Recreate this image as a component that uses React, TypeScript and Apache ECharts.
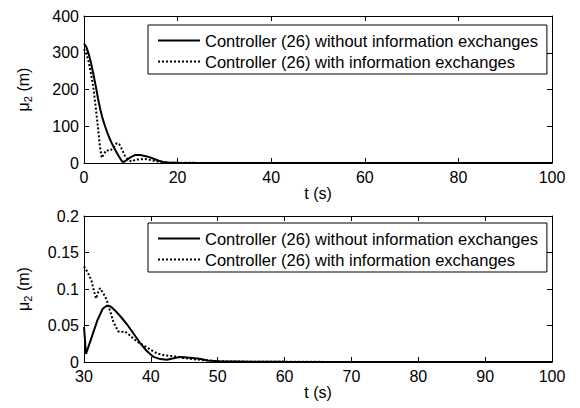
import React, { useEffect, useRef } from 'react';
import * as echarts from 'echarts';

const seriesNames = [
  'Controller (26) without information exchanges',
  'Controller (26) with information exchanges',
];

// Top panel: t (s), mu_2 (m)
const topSolid: number[][] = [
  [0, 325], [0.5, 316], [1, 297], [1.5, 272], [2, 242], [2.5, 210], [3, 175], [3.5, 145], [4, 120], [4.5, 100],
  [5, 82], [5.5, 66], [6, 52], [6.5, 40], [7, 28], [7.5, 17], [8, 7], [8.4, 2], [9, 7], [10, 16], [11, 22],
  [12, 22], [13, 19], [14, 16], [15, 11], [16, 6], [17, 3], [18, 1.5], [20, 0.8], [25, 0.3], [30, 0.1],
  [40, 0.05], [60, 0.02], [80, 0.01], [100, 0],
];
const topDotted: number[][] = [
  [0, 310], [0.5, 298], [1, 275], [1.5, 242], [2, 205], [2.5, 152], [3, 95], [3.4, 45], [3.8, 14], [4.2, 24],
  [4.8, 35], [5.5, 33], [6.2, 40], [7, 54], [7.5, 52], [8, 40], [8.8, 18], [9.5, 8], [10.2, 4], [11, 9],
  [12, 10], [13, 11], [14, 9], [15, 6], [16, 3], [17, 1], [20, 0.5], [30, 0.1], [60, 0.02], [100, 0],
];

// Bottom panel (zoom): t from 30 s
const bottomSolid: number[][] = [
  [30, 0.048], [30.3, 0.011], [31, 0.03], [32, 0.057], [32.8, 0.073], [33.4, 0.077], [34, 0.076], [34.6, 0.071],
  [35.5, 0.062], [36.4, 0.052], [37.4, 0.039], [38.4, 0.026], [39.4, 0.015], [40.4, 0.007], [41.4, 0.004],
  [42.4, 0.003], [43.4, 0.005], [44.4, 0.007], [45.5, 0.006], [47.3, 0.0045], [48.5, 0.002], [50, 0.001],
  [55, 0.0004], [60, 0.0002], [80, 0.0001], [100, 0],
];
const bottomDotted: number[][] = [
  [30, 0.131], [30.6, 0.122], [31.1, 0.112], [31.5, 0.097], [31.8, 0.087], [32.1, 0.095], [32.4, 0.101],
  [32.9, 0.094], [33.4, 0.085], [33.9, 0.07], [34.4, 0.055], [35.1, 0.042], [35.6, 0.041], [36.1, 0.042],
  [36.8, 0.037], [37.4, 0.032], [38.1, 0.027], [38.9, 0.023], [39.9, 0.017], [40.9, 0.012], [42.1, 0.009],
  [43.4, 0.008], [44.4, 0.006], [45.4, 0.005], [47.3, 0.003], [50, 0.001], [55, 0.0004], [60, 0.0002],
  [100, 0],
];

const topXTicks = { min: 0, max: 100, interval: 20 };
const topYTicks = { min: 0, max: 400, interval: 100 };
const bottomXTicks = { min: 30, max: 100, interval: 10 };
const bottomYTicks = { min: 0, max: 0.2, interval: 0.05 };

const FONT = 'Liberation Sans, Arial, Helvetica, sans-serif';
const FS = 16;

function mainX(gridIndex: number, t: { min: number; max: number; interval: number }) {
  return {
    type: 'value', gridIndex, position: 'bottom', ...t,
    name: 't (s)', nameLocation: 'middle', nameGap: 20,
    nameTextStyle: { color: '#000', fontSize: FS, fontFamily: FONT },
    axisLine: { show: true, onZero: false, lineStyle: { color: '#000', width: 1 } },
    axisTick: { show: true, inside: true, length: 5, lineStyle: { color: '#000' } },
    axisLabel: { color: '#000', fontSize: FS, fontFamily: FONT, margin: 7, lineHeight: 14 },
    splitLine: { show: false },
  };
}
function sideX(gridIndex: number, t: { min: number; max: number; interval: number }) {
  return {
    type: 'value', gridIndex, position: 'top', ...t,
    axisLine: { show: true, onZero: false, lineStyle: { color: '#000', width: 1 } },
    axisTick: { show: true, inside: true, length: 5, lineStyle: { color: '#000' } },
    axisLabel: { show: false },
    splitLine: { show: false },
  };
}
function mainY(gridIndex: number, t: { min: number; max: number; interval: number }) {
  return {
    type: 'value', gridIndex, position: 'left', ...t,
    name: '{a|μ}{b|2}{a| (m)}', nameLocation: 'middle', nameGap: 51,
    nameTextStyle: {
      color: '#000', fontSize: FS, fontFamily: FONT,
      rich: {
        a: { fontSize: FS, fontFamily: FONT, color: '#000' },
        b: { fontSize: 11, fontFamily: FONT, color: '#000', padding: [9, 0, 0, 0] },
      },
    },
    axisLine: { show: true, onZero: false, lineStyle: { color: '#000', width: 1 } },
    axisTick: { show: true, inside: true, length: 5, lineStyle: { color: '#000' } },
    axisLabel: { color: '#000', fontSize: FS, fontFamily: FONT, margin: 5, lineHeight: 13 },
    splitLine: { show: false },
  };
}
function sideY(gridIndex: number, t: { min: number; max: number; interval: number }) {
  return {
    type: 'value', gridIndex, position: 'right', ...t,
    axisLine: { show: true, onZero: false, lineStyle: { color: '#000', width: 1 } },
    axisTick: { show: true, inside: true, length: 5, lineStyle: { color: '#000' } },
    axisLabel: { show: false },
    splitLine: { show: false },
  };
}

function legendAt(top: number) {
  return {
    orient: 'vertical', left: 148, top,
    data: seriesNames,
    backgroundColor: '#fff', borderColor: '#000', borderWidth: 1, borderRadius: 0,
    padding: [7, 9, 4, 9], itemGap: 4, itemWidth: 42, itemHeight: 14,
    itemStyle: { opacity: 0 },
    textStyle: { color: '#000', fontSize: 16.5, fontFamily: FONT },
    selectedMode: false,
  };
}

function line(name: string, data: number[][], axisIdx: number, dotted: boolean) {
  return {
    type: 'line', name, data, xAxisIndex: axisIdx, yAxisIndex: axisIdx,
    symbol: 'none', showSymbol: false, smooth: false,
    lineStyle: { color: '#000', width: 2, type: dotted ? [2, 2] : 'solid' },
    itemStyle: { color: '#000' },
    z: dotted ? 3 : 2,
  };
}

export default function App() {
  const ref = useRef<HTMLDivElement>(null);
  useEffect(() => {
    if (!ref.current) return;
    const chart = echarts.init(ref.current, null, { renderer: 'svg' });
    chart.setOption({
      animation: false,
      backgroundColor: '#fff',
      grid: [
        { left: 84, top: 16, width: 468, height: 147 },
        { left: 84, top: 216, width: 468, height: 146 },
      ],
      xAxis: [mainX(0, topXTicks), sideX(0, topXTicks), mainX(1, bottomXTicks), sideX(1, bottomXTicks)],
      yAxis: [mainY(0, topYTicks), sideY(0, topYTicks), mainY(1, bottomYTicks), sideY(1, bottomYTicks)],
      legend: [legendAt(25), legendAt(223)],
      series: [
        line(seriesNames[0], topSolid, 0, false),
        line(seriesNames[1], topDotted, 0, true),
        line(seriesNames[0], bottomSolid, 2, false),
        line(seriesNames[1], bottomDotted, 2, true),
      ],
    });
    return () => chart.dispose();
  }, []);
  return <div ref={ref} style={{ width: 580, height: 408, position: 'absolute', left: 0, top: 0 }} />;
}
